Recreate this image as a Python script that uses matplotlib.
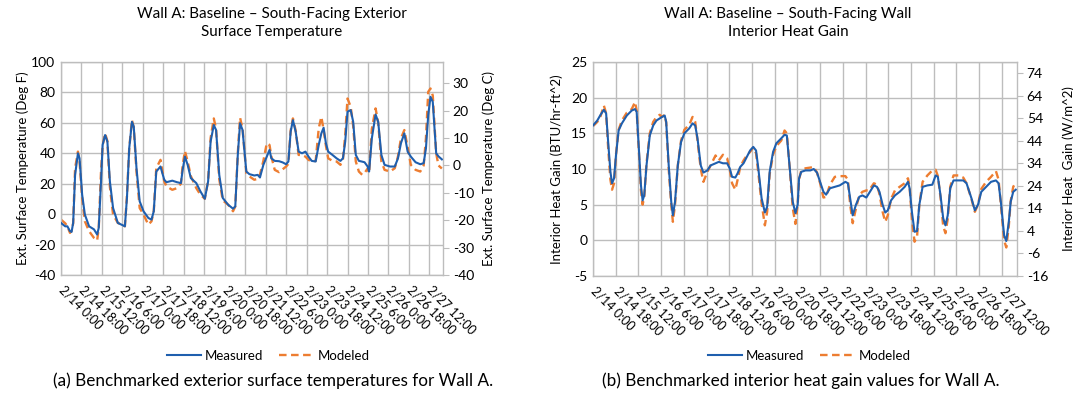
import matplotlib
matplotlib.use("Agg")
import matplotlib.pyplot as plt
from matplotlib.lines import Line2D

plt.rcParams['font.family'] = ['Lato', 'DejaVu Sans']
plt.rcParams['axes.unicode_minus'] = False

# ---- data (hours after 2/14 0:00) ----
temp_hours = [0, 3.7, 5.6, 7.9, 9.3, 10.7, 12.4, 14.9, 16.3, 18.6, 21, 24.7, 29, 31.8, 33.2,
              35.2, 36.6, 38.8, 40.8, 43, 45.8, 50, 54.3, 56.2, 58, 60, 62.4, 64, 66.4, 69.2,
              72.6, 76.8, 79.6, 81.6, 83.8, 87.5, 90.8, 92.8, 97.9, 102, 105.5, 107, 109,
              111.4, 114.2, 119, 122.6, 126.5, 129.4, 131.6, 134.4, 136.4, 139.2, 142.3, 147,
              151.3, 153.3, 155.5, 157.5, 159.7, 163, 165.7, 170, 173, 175, 178, 181, 183.4,
              185, 188, 191.8, 195, 198, 200, 202, 204, 206.4, 209, 212, 215, 217.7, 220.5,
              224, 226.7, 229, 231, 233, 235, 238.8, 242.4, 245.8, 248, 250, 252, 254.8, 257,
              259.3, 262, 265, 267, 269.7, 271, 273.4, 276.7, 279, 281.8, 284.6, 289.4, 293.6,
              296.4, 299, 302, 304.9, 307.7, 311.9, 316, 319, 321, 323, 325, 327, 330, 332, 335]
temp_measured = [-5.8, -8, -8, -11.2, -11.7, -5.8, 25.8, 40, 36.7, 12.8, -0.3, -8, -10, -13.4, -9,
                 21.5, 45.5, 52, 47.7, 21.5, 4, -5.8, -7.3, -8, 10.6, 43.3, 60.7, 57.5, 30.2, 8.4,
                 1.9, -2.5, -3.6, 1.9, 28, 31.3, 22.6, 21, 22, 21, 20.4, 29.1, 37.8,
                 32.4, 23.7, 20.4, 15, 10.1, 21.5, 47.7, 58.6, 55.3, 25.8, 10.6, 6.2,
                 3.6, 5.1, 38.9, 59.7, 55.3, 28, 26.3, 25.4, 25.8, 24.1, 32.4, 37.8, 42.2,
                 36.7, 35, 34.8, 34, 32.8, 34.6, 54.2, 61.8, 54.2, 41.1, 40, 41.1, 37.8, 35,
                 34.6, 45.5, 53.1, 56.8, 46.6, 41.1, 38.9, 36.7, 35, 36.7, 47.7, 67.3, 68.4, 60.7,
                 38.9, 35, 34.5, 34.1, 31.3, 28, 49.8, 65.5, 60.7, 38.9, 32.4, 31.3, 31.3,
                 36.7, 46.6, 53.1, 41.1, 37.8, 34.1, 32.8, 33.5, 43.3, 65.1, 77.1, 73.8, 40, 38, 36]
temp_modeled = [-3.6, -6, -8, -12.3, -11, -6, 30.2, 41.1, 35, 10.6, -4.7, -11.2, -15.6, -17.3, -9,
                28, 45, 53.1, 48, 18, -0.3, -5.8, -6.9, -8, 12, 43, 61.8, 57, 28, 4,
                -0.3, -6.9, -4.7, 2, 30.2, 35.7, 21.5, 18.2, 16, 17.1, 20, 32, 41.5,
                34.6, 25, 17.1, 12.8, 10.1, 22, 50, 62.9, 56, 23, 9, 6.2,
                1.9, 5, 40, 63.4, 56, 27, 24.8, 22.6, 23.2, 26, 35, 46.6, 45.5,
                38, 29.1, 27.6, 29.5, 31.3, 33, 55, 62.9, 55, 38.9, 38.9, 37.8, 35.7, 34.6,
                35, 56.4, 64, 55.3, 45, 36.7, 35, 34.6, 32.4, 36, 52, 76, 70.6, 58,
                34.6, 28, 25.8, 27, 30, 27, 56, 69.5, 60, 34.6, 29.1, 28, 30.2,
                38, 49.8, 55.3, 44, 32.4, 29.1, 28, 32, 50, 80.4, 82.6, 78, 40, 32, 30]

heat_hours = [0, 3.4, 6, 8.6, 10.4, 12, 13.8, 15.1, 16.7, 18.2, 20.3, 22.9, 26.8, 30.7, 33.3,
              34.6, 36.5, 38, 39.3, 40.6, 42.4, 45, 47.7, 50.3, 52.9, 54.7, 56.8, 58, 60, 62,
              63.3, 65, 67.2, 69.8, 72.4, 76.3, 78.9, 81, 82.8, 85.4, 87.5, 90.6, 93.2, 97.1,
              99.7, 103, 106.3, 108.3, 110.2, 112.8, 114.6, 116.7, 119.3, 121.9, 124.5, 127,
              129.2, 131, 133.6, 136.2, 138, 140, 142.7, 145.3, 149.2, 151.8, 153.6, 155.7,
              158.3, 160.4, 162.2, 163.3, 165, 168.4, 172.3, 174.9, 177.5, 180, 182.6, 184.7,
              187.8, 191.6, 195.5, 200, 202, 203.8, 205.8, 208.4, 211, 213.5, 216.6, 218.7,
              222.6, 225, 227, 229.5, 231.6, 233.6, 236.2, 239.3, 243, 247, 249.6, 250.9,
              252.7, 254.8, 256.8, 258.6, 261.2, 265, 268.9, 271.5, 273.3, 275.4, 277.5,
              279.3, 281.1, 283.1, 285.7, 289.6, 293.4, 296, 299.9, 302.6, 305.1, 307.7,
              311.5, 315.4, 319.3, 321.4, 323.2, 325.8, 327.5, 329.5, 331, 333, 335]
heat_measured = [16.1, 16.8, 17.6, 18.3, 17.8, 13.8, 9.6, 8, 8.7, 11.9, 15.4, 16.4, 17.5, 18.2, 18.4,
                 18, 12.4, 7.7, 5.6, 6.3, 10.5, 14.7, 16.1, 16.8, 17.1, 17.3, 17.5, 16.6, 10.5, 5.4,
                 3.5, 5.4, 10.5, 13.8, 15, 15.7, 16.4, 16.1, 14.3, 10.5, 9.5, 9.8, 10.5, 10.8,
                 11, 10.8, 10.8, 10.1, 8.9, 8.8, 9.4, 10.3, 10.8, 11.7, 12.6, 13.1,
                 12.6, 10.1, 5.9, 3.9, 4.7, 9.6, 12.4, 13.6, 14.3, 14.8, 14.7, 10.5,
                 5.4, 3.8, 5, 8.7, 9.6, 9.8, 9.8, 10, 9.5, 8.2, 6.8, 6.4,
                 7.3, 7.5, 7.7, 8.2, 8, 5.9, 3.5, 5, 6.1, 6.3, 6, 6.6,
                 7.7, 7.5, 6.8, 5, 3.9, 4.2, 5.6, 6.3, 6.8, 7.5, 8.2, 7.3,
                 4, 1.2, 1.3, 5, 7.5, 7.7, 7.8, 9.1, 8.9, 6.3, 3.1,
                 2.1, 3.5, 7.3, 8.4, 8.4, 8.4, 8, 5.9, 4.2, 5, 6.8,
                 7.5, 8.2, 8.4, 8, 5.4, 0.7, -0.1, 2.6, 5.4, 6.8, 7.1]
heat_modeled = [16.0, 16.6, 17.4, 18.9, 17.8, 13, 8.5, 7.1, 8, 12, 15.5, 16.8, 17.9, 18.4, 19.4,
                18.2, 12, 7, 5.0, 6, 10.8, 15, 16.6, 17.3, 17.6, 17.3, 17.6, 16.5, 10, 5,
                2.6, 5, 10.5, 14, 15.5, 16.2, 17.3, 16.6, 14, 10, 8.2, 9.6, 10.5, 11.9,
                11.2, 12, 11.5, 10, 8, 7.1, 8.5, 10.3, 11.2, 11.9, 12.4, 13,
                12.2, 9.5, 5.2, 2.1, 4, 9.3, 12, 13.2, 14, 15.4, 15, 10.5,
                4.5, 2.3, 5, 8.5, 9.8, 10.1, 10.2, 10.3, 9.5, 8, 6, 6.1,
                7.8, 8.9, 9.0, 9.0, 8.5, 5, 2.4, 4.5, 6.3, 6.8, 7, 7,
                8, 7.8, 6.5, 4, 2.6, 3.5, 5.8, 7, 7.5, 8, 8.7, 7.5,
                3, -0.2, 0.5, 5, 8.2, 9.1, 9.8, 9.9, 9, 6, 2,
                1, 3, 7.5, 9.1, 9.1, 8.8, 8, 5.8, 4, 5, 7.2,
                8.2, 8.9, 9.7, 8.5, 5, 0, -1, 2, 5.5, 7.5, 8.1]

tick_hours = list(range(0, 325, 18))
tick_labels = ['2/14 0:00', '2/14 18:00', '2/15 12:00', '2/16 6:00', '2/17 0:00',
               '2/17 18:00', '2/18 12:00', '2/19 6:00', '2/20 0:00', '2/20 18:00',
               '2/21 12:00', '2/22 6:00', '2/23 0:00', '2/23 18:00', '2/24 12:00',
               '2/25 6:00', '2/26 0:00', '2/26 18:00', '2/27 12:00']

BLUE = '#1f5fae'
ORANGE = '#ed7d31'
GRID = '#bdbdbd'
W, H = 1073, 394


def px_box(x0, y0, x1, y1):
    return [x0 / W, 1 - y1 / H, (x1 - x0) / W, (y1 - y0) / H]


def style_axes(ax):
    for s in ['top', 'bottom', 'left', 'right']:
        ax.spines[s].set_color(GRID)
        ax.spines[s].set_linewidth(1.0)
    ax.grid(True, color=GRID, linewidth=1.0)
    ax.set_axisbelow(True)
    ax.set_xlim(0, 336)
    ax.set_xticks(tick_hours)
    ax.set_xticklabels(tick_labels, rotation=-45, ha='left', va='center',
                       rotation_mode='anchor', fontsize=9)
    ax.tick_params(axis='x', length=0, pad=9)
    ax.tick_params(axis='y', length=0, labelsize=10, pad=4)


def draw(ax, hours, measured, modeled):
    ax.plot(hours, modeled, color=ORANGE, lw=1.7, dashes=(3.2, 1.9), zorder=2)
    ax.plot(hours, measured, color=BLUE, lw=1.5, zorder=3)


fig = plt.figure(figsize=(W / 100, H / 100), dpi=100)

# ---- left: exterior surface temperature ----
ax1 = fig.add_axes(px_box(61, 62, 443, 275))
style_axes(ax1)
draw(ax1, temp_hours, temp_measured, temp_modeled)
ax1.set_ylim(-40, 100)
ax1.set_yticks(range(-40, 101, 20))
ax1.set_ylabel('Ext. Surface Temperature (Deg F)', fontsize=9.5, labelpad=2)
ax1b = ax1.twinx()
ax1b.set_ylim(-40, (100 - 32) / 1.8)
ax1b.set_yticks(range(-40, 31, 10))
ax1b.tick_params(axis='y', length=4, color=GRID, labelsize=10, pad=3)
for s in ax1b.spines.values():
    s.set_visible(False)
ax1b.set_ylabel('Ext. Surface Temperature (Deg C)', fontsize=9.5, labelpad=6)

# ---- right: interior heat gain ----
ax2 = fig.add_axes(px_box(593, 62, 1017, 276))
style_axes(ax2)
draw(ax2, heat_hours, heat_measured, heat_modeled)
ax2.set_ylim(-5, 25)
ax2.set_yticks(range(-5, 26, 5))
ax2.set_ylabel('Interior Heat Gain (BTU/hr-ft^2)', fontsize=9.5, labelpad=6)
ax2b = ax2.twinx()
ax2b.set_ylim(-16, 25 * 3.1546)
ax2b.set_yticks(range(-16, 75, 10))
ax2b.tick_params(axis='y', length=4, color=GRID, labelsize=10, pad=3)
for s in ax2b.spines.values():
    s.set_visible(False)
ax2b.set_ylabel('Interior Heat  Gain (W/m^2)', fontsize=9.5, labelpad=10)

# ---- titles ----
fig.text(272 / W, 1 - 23 / H, 'Wall A: Baseline \u2013 South-Facing Exterior\nSurface Temperature',
         ha='center', va='center', fontsize=10.9, linespacing=1.4)
fig.text(788 / W, 1 - 23 / H, 'Wall A: Baseline \u2013 South-Facing Wall\nInterior Heat Gain',
         ha='center', va='center', fontsize=10.9, linespacing=1.4)

# ---- legends ----
handles = [Line2D([], [], color=BLUE, lw=1.5),
           Line2D([], [], color=ORANGE, lw=1.7, dashes=(3.2, 1.9))]
for cx in (268, 809):
    fig.legend(handles, ['Measured', 'Modeled'], loc='center', ncol=2,
               bbox_to_anchor=(cx / W, 1 - 356 / H), frameon=False, fontsize=9.5,
               handlelength=2.6, handletextpad=0.3, columnspacing=1.2)

# ---- captions ----
fig.text(273 / W, 1 - 381 / H, '(a) Benchmarked exterior surface temperatures for Wall A.',
         ha='center', va='center', fontsize=12.3)
fig.text(801 / W, 1 - 381 / H, '(b) Benchmarked interior heat gain values for Wall A.',
         ha='center', va='center', fontsize=12.3)

fig.savefig('out.png', dpi=100)
